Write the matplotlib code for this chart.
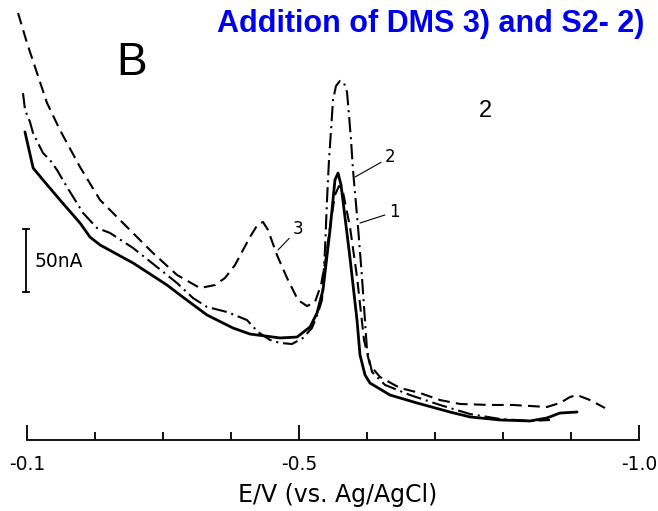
import matplotlib.pyplot as plt

plt.rcParams['lines.scale_dashes'] = False

# potential (V vs. Ag/AgCl) and current (nA)

# curve 1 - solid
e1 = [-0.097, -0.109, -0.1235, -0.1485, -0.178, -0.1926, -0.2074, -0.2559,
      -0.3059, -0.325, -0.3647, -0.4029, -0.4279, -0.4721, -0.4971, -0.5162,
      -0.5265, -0.5353, -0.5456, -0.5529, -0.5574, -0.5618, -0.575, -0.5853,
      -0.5897, -0.5971, -0.6044, -0.6338, -0.6735, -0.7221, -0.7515, -0.7956,
      -0.8397, -0.8647, -0.8838, -0.9088]
i1 = [244.5, 215.9, 206.4, 190.5, 172.2, 161.1, 154.8, 140.5,
      123.0, 115.1, 99.2, 88.9, 84.1, 81.0, 81.7, 89.7,
      100.8, 119.1, 166.7, 206.4, 211.9, 202.4, 144.4, 95.2,
      67.5, 51.6, 45.2, 35.7, 29.4, 22.2, 18.3, 15.9,
      15.1, 17.5, 21.4, 22.2]

# curve 2 - dash-dot
e2 = [-0.0941, -0.0971, -0.1044, -0.1088, -0.1235, -0.1338, -0.1441, -0.1588,
      -0.1824, -0.2029, -0.2221, -0.2559, -0.2912, -0.3206, -0.3441, -0.3647,
      -0.3941, -0.4235, -0.4397, -0.4574, -0.4721, -0.4897, -0.5059, -0.5191,
      -0.5279, -0.5338, -0.5382, -0.5412, -0.5441, -0.5471, -0.55, -0.5544,
      -0.5603, -0.5662, -0.5706, -0.5735, -0.5765, -0.5794, -0.5868, -0.5926,
      -0.6, -0.6074, -0.6265, -0.6632, -0.7074, -0.7515, -0.7956, -0.8397,
      -0.8691]
i2 = [275.4, 261.9, 252.4, 243.7, 227.8, 222.2, 214.3, 200.8,
      180.2, 168.3, 164.3, 152.4, 137.3, 124.6, 112.7, 105.6,
      101.6, 95.2, 85.7, 79.4, 77.0, 76.2, 81.0, 88.9,
      100.8, 111.1, 150.8, 190.5, 222.2, 246.0, 269.8, 281.0,
      285.0, 283.3, 276.2, 258.0, 238.1, 214.3, 169.0, 129.4,
      71.4, 54.0, 43.7, 35.7, 27.8, 20.6, 16.7, 15.1,
      15.9]

# curve 3 - dashed
e3 = [-0.0868, -0.1, -0.1147, -0.1294, -0.1485, -0.1779, -0.2074, -0.2471,
      -0.2853, -0.3206, -0.3544, -0.3765, -0.3912, -0.4059, -0.4279, -0.4397,
      -0.4471, -0.4544, -0.4676, -0.4824, -0.4985, -0.5118, -0.5235, -0.5324,
      -0.5397, -0.5471, -0.5529, -0.5588, -0.5647, -0.575, -0.5853, -0.5956,
      -0.6044, -0.6191, -0.6485, -0.6779, -0.7074, -0.7368, -0.7809, -0.8147,
      -0.8647, -0.8838, -0.8985, -0.9088, -0.9279, -0.95]
i3 = [338.9, 315.1, 291.3, 267.5, 246.0, 216.7, 190.5, 169.0,
      148.4, 131.0, 120.6, 123.0, 128.6, 138.9, 161.1, 171.4,
      173.0, 166.7, 146.8, 128.6, 111.1, 106.3, 109.5, 123.0,
      145.2, 174.6, 194.4, 201.6, 196.8, 169.0, 129.4, 79.4,
      59.5, 50.0, 41.3, 37.3, 31.7, 28.6, 27.8, 27.8,
      26.2, 29.4, 34.1, 35.7, 31.7, 25.4]

major_ticks = [-0.1, -0.5, -1.0]
major_labels = ['-0.1', '-0.5', '-1.0']
minor_ticks = [-0.2, -0.3, -0.4, -0.6, -0.7, -0.8, -0.9]

bar_e = -0.0985
bar_lo, bar_hi = 117.5, 167.5

fig = plt.figure(figsize=(6.58, 5.11), dpi=100)
ax = fig.add_axes([0, 71 / 511, 1, 440 / 511])
ax.set_xlim(-0.1 + 27 / 680, -0.1 - 631 / 680)
ax.set_ylim(0, 440 * 50 / 63)

ax.plot(e1, i1, color='black', lw=2.0, solid_capstyle='round')
ax.plot(e2, i2, color='black', lw=1.5, dashes=(11, 3.5, 1.5, 3.5))
ax.plot(e3, i3, color='black', lw=1.5, dashes=(8.5, 4.5))

# 50 nA scale bar
ax.plot([bar_e, bar_e], [bar_lo, bar_hi], color='black', lw=1.3)
ax.plot([bar_e - 0.004, bar_e + 0.004], [bar_lo, bar_lo], color='black', lw=1.3)
ax.plot([bar_e - 0.004, bar_e + 0.004], [bar_hi, bar_hi], color='black', lw=1.3)
ax.text(-0.1118, 141.3, '50nA', fontsize=13.5, ha='left', va='center')

# curve labels
lead = dict(arrowstyle='-', lw=0.8, color='black', shrinkA=1, shrinkB=0)
ax.annotate('3', xy=(-0.4691, 150.8), xytext=(-0.4912, 167.5), fontsize=12,
            ha='left', va='center', arrowprops=lead)
ax.annotate('2', xy=(-0.5824, 208.7), xytext=(-0.6265, 224.6), fontsize=12,
            ha='left', va='center', arrowprops=lead)
ax.annotate('1', xy=(-0.5897, 172.2), xytext=(-0.6324, 181.0), fontsize=12,
            ha='left', va='center', arrowprops=lead)

for side in ['left', 'right', 'top']:
    ax.spines[side].set_visible(False)
ax.spines['bottom'].set_bounds(-0.1, -1.0)
ax.spines['bottom'].set_linewidth(1.3)
ax.set_yticks([])
ax.set_xticks(major_ticks)
ax.set_xticklabels(major_labels)
ax.set_xticks(minor_ticks, minor=True)
ax.tick_params(axis='x', which='major', direction='in', length=11, width=1.3,
               pad=11, labelsize=13.5)
ax.tick_params(axis='x', which='minor', direction='in', length=6, width=1.3)
ax.patch.set_alpha(0)

fig.text(338 / 658, 1 - 495 / 511, 'E/V (vs. Ag/AgCl)', fontsize=17,
         ha='center', va='center')
fig.text(116 / 658, 1 - 75 / 511, 'B', fontsize=33, family='Liberation Sans',
         va='baseline')
fig.text(485 / 658, 1 - 117 / 511, '2', fontsize=17, family='Liberation Sans',
         ha='center', va='baseline')
fig.text(217 / 658, 1 - 32 / 511, 'Addition of DMS 3) and S2- 2)', fontsize=22,
         weight='bold', color='#0000f0', family='Liberation Sans', va='baseline')

fig.savefig('out.png', dpi=100)
